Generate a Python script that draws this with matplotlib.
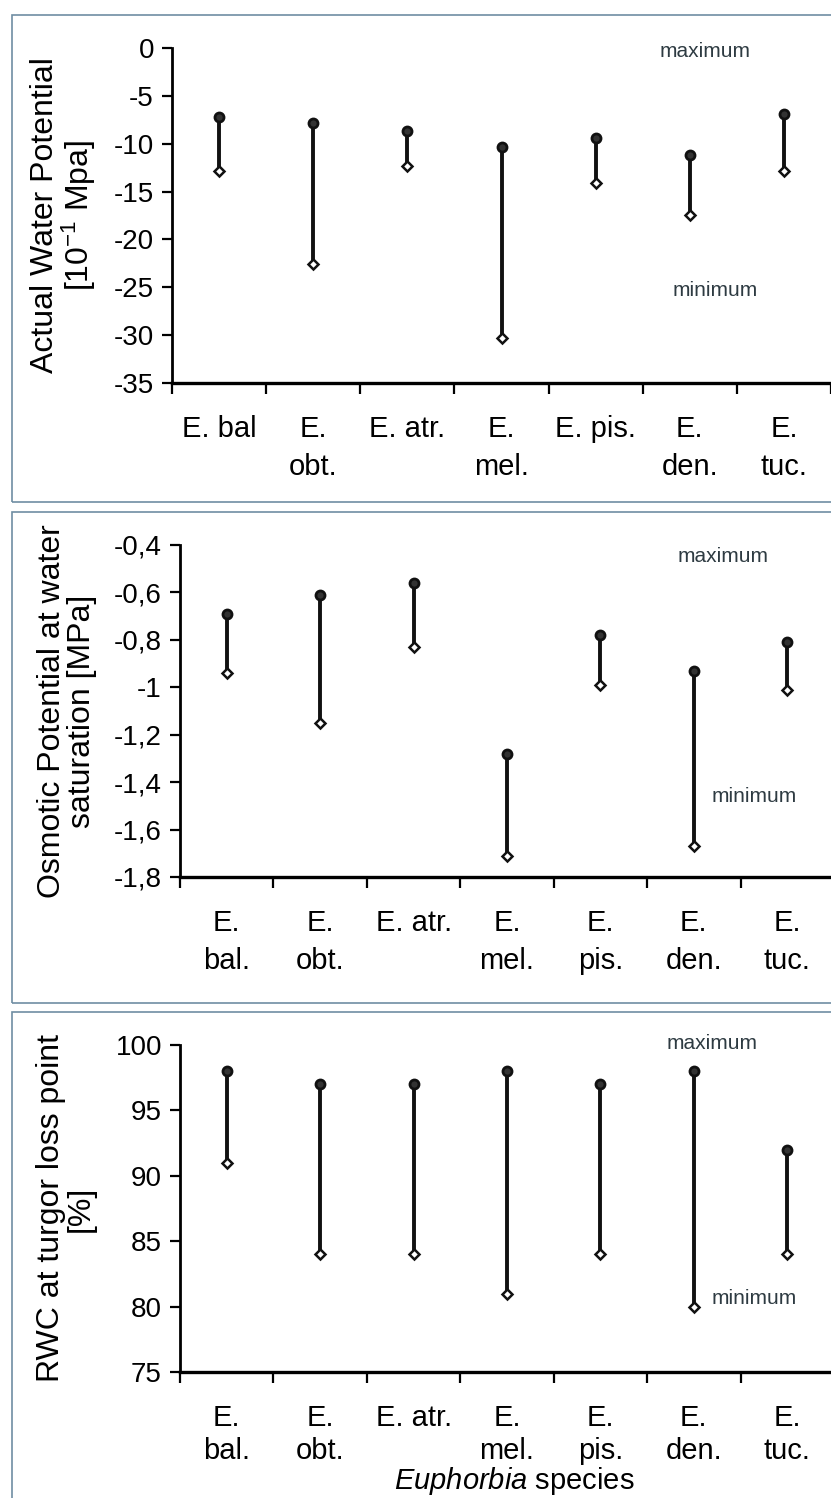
import matplotlib
matplotlib.use('Agg')
import matplotlib.pyplot as plt
from matplotlib.patches import Rectangle

plt.rcParams['font.family'] = ['Liberation Sans', 'DejaVu Sans']
plt.rcParams['mathtext.fontset'] = 'custom'
plt.rcParams['mathtext.rm'] = 'Liberation Sans'
plt.rcParams['mathtext.it'] = 'Liberation Sans:italic'
plt.rcParams['axes.unicode_minus'] = False

# species labels per panel
species_a = ['E. bal', 'E.\nobt.', 'E. atr.', 'E.\nmel.', 'E. pis.', 'E.\nden.', 'E.\ntuc.']
species_b = ['E.\nbal.', 'E.\nobt.', 'E. atr.', 'E.\nmel.', 'E.\npis.', 'E.\nden.', 'E.\ntuc.']

# actual water potential [10^-1 MPa]
awp_max = [-7.2, -7.8, -8.7, -10.3, -9.4, -11.2, -6.9]
awp_min = [-12.8, -22.6, -12.3, -30.3, -14.1, -17.4, -12.9]
awp_ticks = [0, -5, -10, -15, -20, -25, -30, -35]

# osmotic potential at water saturation [MPa]
osm_max = [-0.69, -0.61, -0.56, -1.28, -0.78, -0.93, -0.81]
osm_min = [-0.94, -1.15, -0.83, -1.71, -0.99, -1.67, -1.01]
osm_ticks = [-0.4, -0.6, -0.8, -1.0, -1.2, -1.4, -1.6, -1.8]
osm_ticklabels = ['-0,4', '-0,6', '-0,8', '-1', '-1,2', '-1,4', '-1,6', '-1,8']

# RWC at turgor loss point [%]
rwc_max = [98, 97, 97, 98, 97, 98, 92]
rwc_min = [91, 84, 84, 81, 84, 80, 84]
rwc_ticks = [75, 80, 85, 90, 95, 100]

W, H = 831, 1498
fig = plt.figure(figsize=(W / 100, H / 100), dpi=100)

def fx(px):
    return px / W

def fy(px):
    return 1 - px / H

def panel(rect, vmax, vmin, ticks, ticklabels, labels, ylim, ylabel, ylab_x, maxpos, minpos,
          lsp=1.45):
    ax = fig.add_axes(rect)
    x = [i + 0.5 for i in range(len(labels))]
    ax.vlines(x, vmin, vmax, color='#111111', lw=2.8, zorder=2)
    ax.plot(x, vmax, 'o', ms=6.5, mfc='#333333', mec='#111111', mew=2.0, zorder=3)
    ax.plot(x, vmin, 'D', ms=4.8, mfc='white', mec='#111111', mew=1.8, zorder=3)
    ax.set_xlim(0, 7)
    ax.set_ylim(*ylim)
    ax.set_yticks(ticks)
    ax.set_yticklabels(ticklabels)
    ax.set_xticks(range(8))
    ax.set_xticklabels([])
    ax.set_xticks(x, minor=True)
    ax.set_xticklabels(labels, minor=True, fontsize=21, linespacing=lsp)
    ax.tick_params(axis='x', which='minor', length=0, pad=23)
    ax.tick_params(axis='x', which='major', length=8, width=1.6, direction='out')
    ax.tick_params(axis='y', length=7, width=1.6, direction='out', labelsize=20, pad=6)
    for s in ['top', 'right']:
        ax.spines[s].set_visible(False)
    ax.spines['left'].set_linewidth(2.0)
    ax.spines['bottom'].set_linewidth(2.4)
    ax.text(maxpos[0], maxpos[1], 'maximum', fontsize=15, color='#2e3b42',
            ha='center', va='center', family=['Liberation Sans Narrow', 'Liberation Sans'])
    ax.text(minpos[0], minpos[1], 'minimum', fontsize=15, color='#2e3b42',
            ha='center', va='center', family=['Liberation Sans Narrow', 'Liberation Sans'])
    y0, y1 = rect[1], rect[1] + rect[3]
    fig.text(ylab_x, (y0 + y1) / 2, ylabel, rotation=90, ha='center', va='center',
             fontsize=23, linespacing=1.0, multialignment='center')
    return ax

# frames around each panel
frame_color = '#6f8ea3'
for top, bottom in [(15, 502), (512, 1003), (1012, 1510)]:
    fig.add_artist(Rectangle((fx(12), fy(bottom)), fx(840), fy(top) - fy(bottom),
                             transform=fig.transFigure, fill=False,
                             ec=frame_color, lw=1.2))

panel([fx(172), fy(383), fx(659), (383 - 48) / H], awp_max, awp_min, awp_ticks,
      [str(t) for t in awp_ticks], species_a, (-35, 0),
      'Actual Water Potential\n[10$^{-1}$ Mpa]', fx(64), (5.66, -0.4), (5.77, -25.3))

panel([fx(180), fy(877), fx(654), (877 - 545) / H], osm_max, osm_min, osm_ticks,
      osm_ticklabels, species_b, (-1.8, -0.4),
      'Osmotic Potential at water\nsaturation [MPa]', fx(67), (5.81, -0.45), (6.15, -1.46))

ax3 = panel([fx(180), fy(1372), fx(654), (1372 - 1045) / H], rwc_max, rwc_min, rwc_ticks,
            [str(t) for t in rwc_ticks], species_b, (75, 100),
            'RWC at turgor loss point\n[%]', fx(66), (5.70, 100.1), (6.15, 80.6), lsp=1.25)

fig.text(fx(514), fy(1481), r'$\it{Euphorbia}$ species', ha='center', va='center', fontsize=21)

fig.savefig('out.png', dpi=100, facecolor='white')
